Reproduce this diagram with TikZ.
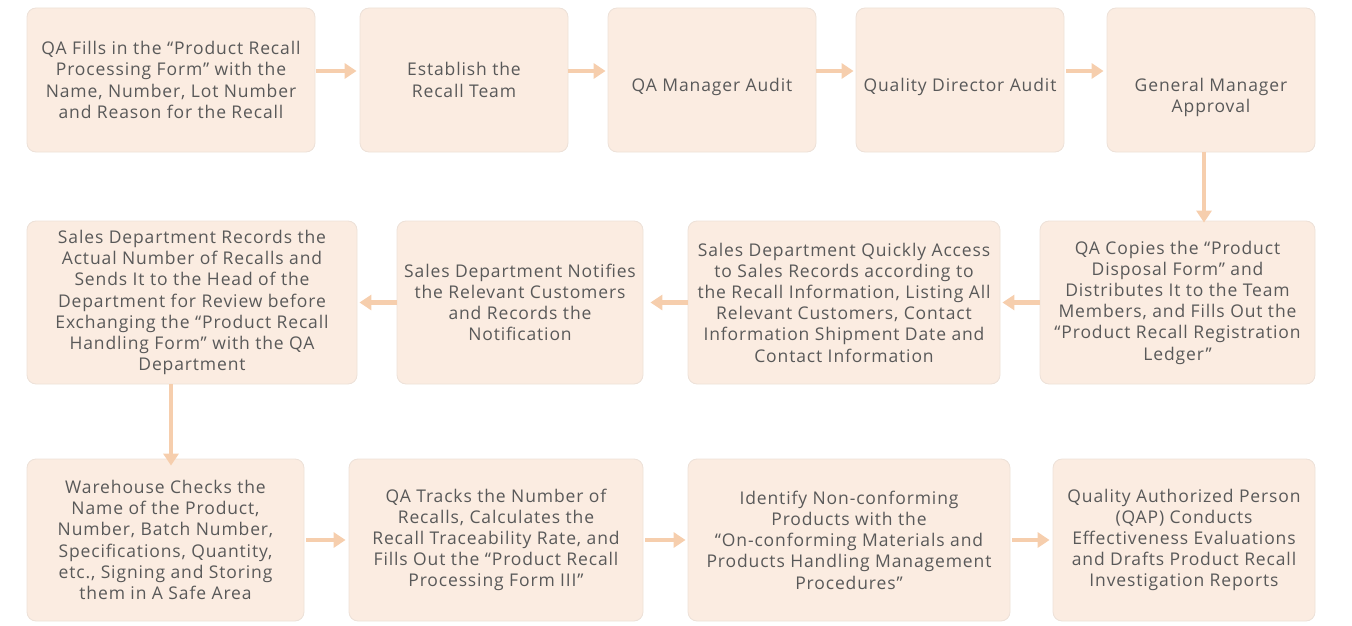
\documentclass[tikz,border=0pt]{standalone}
\usepackage{fontspec}
\setmainfont{Open Sans}[LetterSpace=5]
\usetikzlibrary{arrows.meta}

\definecolor{boxfill}{HTML}{FBECE1}
\definecolor{boxline}{HTML}{EDE1D8}
\definecolor{flow}{HTML}{F6CEAD}
\definecolor{txt}{HTML}{595959}

\tikzset{
  stepbox/.style={draw=boxline, line width=0.8pt, fill=boxfill, rounded corners=9pt,
    align=center, text=txt, inner sep=0pt,
    font=\fontsize{17.5}{21.2}\selectfont},
  flowarrow/.style={draw=flow, line width=4.5pt, -{Triangle[length=12pt, width=15pt]}}
}

\begin{document}
\begin{tikzpicture}[x=1pt, y=-1pt]
    \useasboundingbox (0,0) rectangle (1352,626);

    % Draw the first row
    \node[stepbox, minimum width=288, minimum height=144] (fill) at (171,80)
        {QA Fills in the “Product Recall\\Processing Form” with the\\Name, Number, Lot Number\\and Reason for the Recall};
    \node[stepbox, minimum width=208, minimum height=144] (team) at (464,80)
        {Establish the\\Recall Team};
    \node[stepbox, minimum width=208, minimum height=144] (qam) at (712,80)
        {\rule{0pt}{27pt}QA Manager Audit};
    \node[stepbox, minimum width=208, minimum height=144] (qd) at (960,80)
        {\rule{0pt}{27pt}Quality Director Audit};
    \node[stepbox, minimum width=208, minimum height=144] (gm) at (1211,80)
        {\rule{0pt}{48pt}General Manager\\Approval};

    % Draw the second row
    \node[stepbox, minimum width=275, minimum height=163] (copy) at (1177.5,302.5)
        {QA Copies the “Product\\Disposal Form” and\\Distributes It to the Team\\Members, and Fills Out the\\“Product Recall Registration\\Ledger”};
    \node[stepbox, minimum width=312, minimum height=163] (access) at (844,302.5)
        {Sales Department Quickly Access\\to Sales Records according to\\the Recall Information, Listing All\\Relevant Customers, Contact\\Information Shipment Date and\\Contact Information};
    \node[stepbox, minimum width=246, minimum height=163] (notify) at (520,302.5)
        {Sales Department Notifies\\the Relevant Customers\\and Records the\\Notification};
    \node[stepbox, minimum width=330, minimum height=163] (records) at (192,302.5)
        {Sales Department Records the\\Actual Number of Recalls and\\Sends It to the Head of the\\Department for Review before\\Exchanging the “Product Recall\\Handling Form” with the QA\\Department};

    % Draw the third row
    \node[stepbox, minimum width=277, minimum height=162] (store) at (165.5,540)
        {Warehouse Checks the\\Name of the Product,\\Number, Batch Number,\\Specifications, Quantity,\\etc., Signing and Storing\\them in A Safe Area};
    \node[stepbox, minimum width=294, minimum height=162] (track) at (496,540)
        {QA Tracks the Number of\\Recalls, Calculates the\\Recall Traceability Rate, and\\Fills Out the “Product Recall\\Processing Form III”};
    \node[stepbox, minimum width=322, minimum height=162] (ident) at (849,540)
        {Identify Non-conforming\\Products with the\\“On-conforming Materials and\\Products Handling Management\\Procedures”};
    \node[stepbox, minimum width=262, minimum height=162] (qap) at (1184,540)
        {Quality Authorized Person\\(QAP) Conducts\\Effectiveness Evaluations\\and Drafts Product Recall\\Investigation Reports};

    % Add arrows between the steps
    \draw[flowarrow] ([yshift=9]fill.east) ++(1,0) -- ([yshift=9,xshift=-3]team.west);
    \draw[flowarrow] ([yshift=9]team.east) -- ([yshift=9,xshift=-2]qam.west);
    \draw[flowarrow] ([yshift=9]qam.east) -- ([yshift=9,xshift=-2]qd.west);
    \draw[flowarrow] ([yshift=9,xshift=2]qd.east) -- ([yshift=9,xshift=-3]gm.west);
    \draw[flowarrow] ([xshift=-7]gm.south) -- ([xshift=26.5,yshift=-2]copy.north);
    \draw[flowarrow] (copy.west) -- ([xshift=2]access.east);
    \draw[flowarrow] (access.west) -- ([xshift=7]notify.east);
    \draw[flowarrow] (notify.west) -- ([xshift=2]records.east);
    \draw[flowarrow] ([xshift=-21]records.south) -- ([xshift=5.5,yshift=-7]store.north);
    \draw[flowarrow] ([xshift=2]store.east) -- ([xshift=-3]track.west);
    \draw[flowarrow] ([xshift=2]track.east) -- ([xshift=-2]ident.west);
    \draw[flowarrow] ([xshift=2]ident.east) -- ([xshift=-3]qap.west);
\end{tikzpicture}
\end{document}
